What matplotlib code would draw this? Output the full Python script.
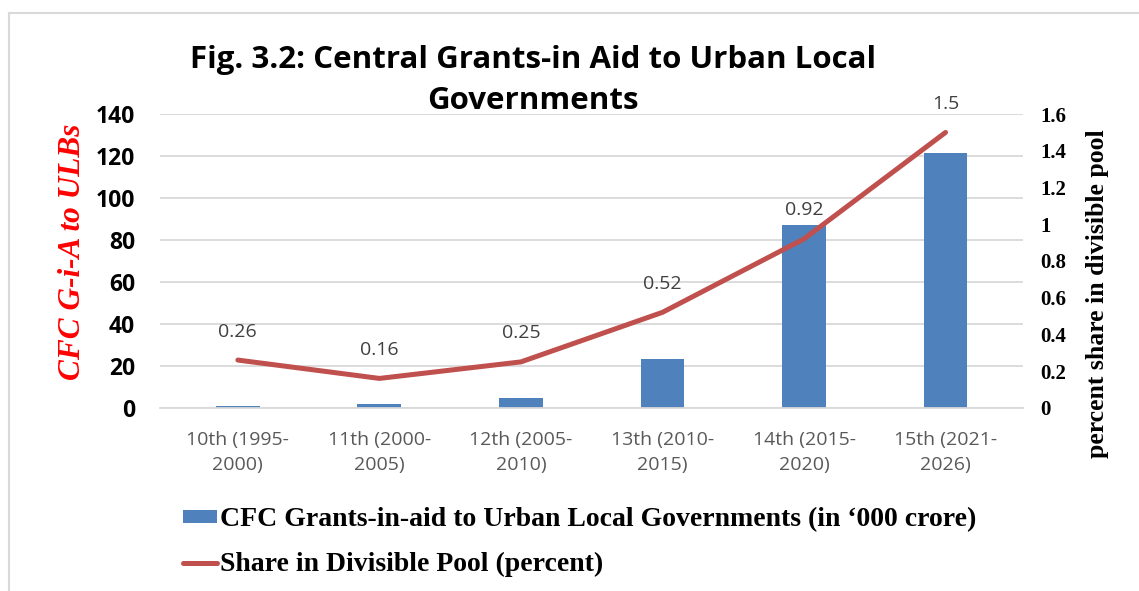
import matplotlib.pyplot as plt
from matplotlib.lines import Line2D
from matplotlib.patches import Patch

commissions = ["10th (1995-\n2000)", "11th (2000-\n2005)", "12th (2005-\n2010)",
               "13th (2010-\n2015)", "14th (2015-\n2020)", "15th (2021-\n2026)"]
grants = [0.9, 2.0, 4.8, 23.2, 87.1, 121.3]       # '000 crore
share_pct = [0.26, 0.16, 0.25, 0.52, 0.92, 1.5]     # percent of divisible pool

BLUE = "#4f81bd"
RED = "#c0504d"
GRID = "#d9d9d9"
SANS = ["Open Sans", "DejaVu Sans"]
SERIF = ["Liberation Serif", "DejaVu Serif"]

fig = plt.figure(figsize=(11.39, 5.91), dpi=100)
ax = fig.add_axes([0.1405, 0.31, 0.758, 0.497])
ax2 = ax.twinx()

x = range(len(commissions))
ax.bar(x, grants, width=0.31, color=BLUE, zorder=2)
ax.set_xlim(-0.55, len(commissions) - 0.45)
ax.set_ylim(0, 140)
ax.set_yticks(range(0, 141, 20))
ax.grid(axis="y", color=GRID, linewidth=1.3, zorder=0)
ax.set_axisbelow(True)
ax.tick_params(axis="y", length=0, pad=18)
ax.tick_params(axis="x", length=0, pad=17)
ax.set_xticks(list(x))
ax.set_xticklabels(commissions, fontsize=14, color="#595959", family=SANS,
                   linespacing=1.5)
for lbl in ax.get_yticklabels():
    lbl.set_fontsize(16.5)
    lbl.set_fontweight("bold")
    lbl.set_family(SANS)
for s in ax.spines.values():
    s.set_visible(False)
ax.spines["bottom"].set_visible(True)
ax.spines["bottom"].set_color(GRID)
ax.spines["bottom"].set_linewidth(1.3)
ax.set_ylabel("CFC G-i-A to ULBs", color="red", fontsize=22.5, family=SERIF,
              fontweight="bold", style="italic")
ax.yaxis.set_label_coords(-0.085, 0.53)

ax2.plot(x, share_pct, color=RED, linewidth=3.6, solid_capstyle="round", zorder=3)
ax2.set_ylim(0, 1.6)
ax2.set_yticks([0, 0.2, 0.4, 0.6, 0.8, 1.0, 1.2, 1.4, 1.6])
ax2.set_yticklabels(["0", "0.2", "0.4", "0.6", "0.8", "1", "1.2", "1.4", "1.6"],
                    fontsize=15, fontweight="bold", family=SERIF)
ax2.tick_params(length=0, pad=12)
for s in ax2.spines.values():
    s.set_visible(False)
ax2.set_ylabel("percent share in divisible pool", fontsize=18.5, fontweight="bold",
               family=SERIF)
ax2.yaxis.set_label_coords(1.072, 0.39)

for xi, v in zip(x, share_pct):
    ax2.annotate(f"{v:g}", (xi, v), xytext=(0, 14), textcoords="offset points",
                 ha="center", va="bottom", fontsize=14, color="#404040", family=SANS)

fig.text(0.468, 0.864, "Fig. 3.2: Central Grants-in Aid to Urban Local\nGovernments",
         ha="center", va="center", fontsize=22.5, fontweight="bold", family=SANS,
         linespacing=1.45)

handles = [Patch(facecolor=BLUE),
           Line2D([], [], color=RED, linewidth=3.6, solid_capstyle="round")]
labels = ["CFC Grants-in-aid to Urban Local Governments (in \u2018000 crore)",
          "Share in Divisible Pool (percent)"]
fig.legend(handles, labels, loc="upper left", bbox_to_anchor=(0.161, 0.142),
           frameon=False, ncol=1, handlelength=1.2, handleheight=0.35,
           handletextpad=0.12, labelspacing=0.72, borderaxespad=0, borderpad=0,
           prop={"family": SERIF, "weight": "bold", "size": 20})

# light frame around the chart area
fig.add_artist(Line2D([0.008, 0.008], [0.0, 0.978], color=GRID, linewidth=1.5,
                      transform=fig.transFigure))
fig.add_artist(Line2D([0.008, 1.0], [0.978, 0.978], color=GRID, linewidth=1.5,
                      transform=fig.transFigure))

fig.savefig("out.png", dpi=100)
